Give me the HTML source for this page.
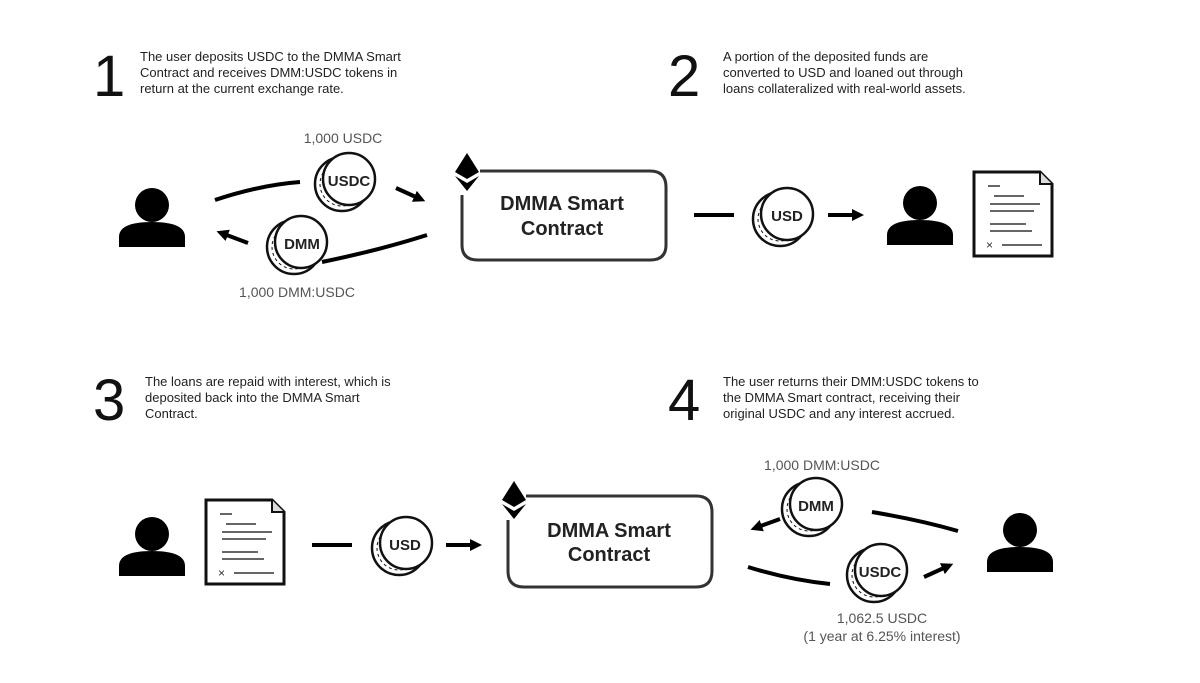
<!DOCTYPE html>
<html><head><style>
body{margin:0;background:#fff;}
svg{display:block;}
.t{font-family:"Liberation Sans",sans-serif;font-size:13px;fill:#222;}
.n{font-family:"Liberation Sans",sans-serif;font-size:58px;fill:#111;}
.g{font-family:"Liberation Sans",sans-serif;font-size:14px;fill:#555;}
.b{font-family:"Liberation Sans",sans-serif;font-size:20px;font-weight:bold;fill:#222;}
.c{font-family:"Liberation Sans",sans-serif;font-size:15px;font-weight:bold;fill:#222;}
</style></head><body>
<svg width="1200" height="683" viewBox="0 0 1200 683" xmlns="http://www.w3.org/2000/svg">
<defs>
<g id="coin">
<circle cx="-6" cy="4" r="27" fill="#fff" stroke="#111" stroke-width="2.5"/>
<circle cx="-6" cy="4" r="22" fill="none" stroke="#111" stroke-width="1" stroke-dasharray="3 3"/>
<circle cx="1" cy="-1" r="26" fill="#fff" stroke="#111" stroke-width="2.5"/>
</g>
<g id="person">
<circle cx="0" cy="0" r="17" fill="#000"/>
<path d="M-33,42 L-33,32 Q-33,17 0,17 Q33,17 33,32 L33,42 Z" fill="#000"/>
</g>
<g id="doc">
<path d="M0,0 H66 L78,12 V84 H0 Z" fill="#fff" stroke="#111" stroke-width="3"/>
<path d="M66,0 V12 H78" fill="#ddd" stroke="#111" stroke-width="2"/>
<g stroke="#333" stroke-width="1.5">
<line x1="14" y1="14" x2="26" y2="14"/><line x1="20" y1="24" x2="50" y2="24"/>
<line x1="16" y1="32" x2="66" y2="32"/><line x1="16" y1="39" x2="60" y2="39"/>
<line x1="16" y1="52" x2="52" y2="52"/><line x1="16" y1="59" x2="58" y2="59"/>
<line x1="28" y1="73" x2="68" y2="73"/>
</g>
<text x="12" y="77" font-family="Liberation Sans" font-size="12" fill="#333">×</text>
</g>
<g id="eth">
<path d="M0,0 L12,19 L0,26 L-12,19 Z" fill="#000"/>
<path d="M-12,23 L0,30 L12,23 L0,38 Z" fill="#000"/>
</g>
<marker id="ah" markerWidth="3" markerHeight="3" refX="1" refY="1.5" orient="auto" markerUnits="strokeWidth"><path d="M0,0 L3,1.5 L0,3 Z" fill="#000"/></marker>
</defs>

<text class="n" x="93" y="96">1</text>
<text class="t" x="140" y="61">The user deposits USDC to the DMMA Smart</text>
<text class="t" x="140" y="77">Contract and receives DMM:USDC tokens in</text>
<text class="t" x="140" y="93">return at the current exchange rate.</text>
<text class="n" x="668" y="96">2</text>
<text class="t" x="723" y="61">A portion of the deposited funds are</text>
<text class="t" x="723" y="77">converted to USD and loaned out through</text>
<text class="t" x="723" y="93">loans collateralized with real-world assets.</text>
<text class="n" x="93" y="420">3</text>
<text class="t" x="145" y="386">The loans are repaid with interest, which is</text>
<text class="t" x="145" y="402">deposited back into the DMMA Smart</text>
<text class="t" x="145" y="418">Contract.</text>
<text class="n" x="668" y="420">4</text>
<text class="t" x="723" y="386">The user returns their DMM:USDC tokens to</text>
<text class="t" x="723" y="402">the DMMA Smart contract, receiving their</text>
<text class="t" x="723" y="418">original USDC and any interest accrued.</text>

<!-- Row 1 -->
<use href="#person" x="152" y="205"/>
<text class="g" x="343" y="143" text-anchor="middle">1,000 USDC</text>
<text class="g" x="297" y="297" text-anchor="middle">1,000 DMM:USDC</text>
<path d="M215,200 Q260,185 300,182" fill="none" stroke="#000" stroke-width="4"/>
<path d="M396,188 L418,198" fill="none" stroke="#000" stroke-width="4" marker-end="url(#ah)"/>
<path d="M427,235 Q380,250 322,262" fill="none" stroke="#000" stroke-width="4"/>
<path d="M248,243 L224,234" fill="none" stroke="#000" stroke-width="4" marker-end="url(#ah)"/>
<use href="#coin" x="348" y="180"/>
<text class="c" x="349" y="186" text-anchor="middle">USDC</text>
<use href="#coin" x="300" y="243"/>
<text class="c" x="302" y="249" text-anchor="middle">DMM</text>
<path d="M480,171 H650 Q666,171 666,187 V245 Q666,260 650,260 H478 Q462,260 462,245 V195" fill="none" stroke="#333" stroke-width="3"/>
<use href="#eth" x="467" y="153"/>
<text class="b" x="562" y="210" text-anchor="middle">DMMA Smart</text>
<text class="b" x="562" y="235" text-anchor="middle">Contract</text>
<line x1="694" y1="215" x2="734" y2="215" stroke="#000" stroke-width="4"/>
<use href="#coin" x="786" y="215"/>
<text class="c" x="787" y="221" text-anchor="middle">USD</text>
<path d="M828,215 L856,215" stroke="#000" stroke-width="4" marker-end="url(#ah)"/>
<use href="#person" x="920" y="203"/>
<use href="#doc" x="974" y="172"/>

<!-- Row 2 -->
<use href="#person" x="152" y="534"/>
<use href="#doc" x="206" y="500"/>
<line x1="312" y1="545" x2="352" y2="545" stroke="#000" stroke-width="4"/>
<use href="#coin" x="405" y="544"/>
<text class="c" x="405" y="550" text-anchor="middle">USD</text>
<path d="M446,545 L474,545" stroke="#000" stroke-width="4" marker-end="url(#ah)"/>
<path d="M526,496 H696 Q712,496 712,512 V571 Q712,587 696,587 H524 Q508,587 508,571 V520" fill="none" stroke="#333" stroke-width="3"/>
<use href="#eth" x="514" y="481"/>
<text class="b" x="609" y="537" text-anchor="middle">DMMA Smart</text>
<text class="b" x="609" y="561" text-anchor="middle">Contract</text>
<text class="g" x="822" y="470" text-anchor="middle">1,000 DMM:USDC</text>
<use href="#coin" x="815" y="505"/>
<text class="c" x="816" y="511" text-anchor="middle">DMM</text>
<path d="M780,519 L758,527" stroke="#000" stroke-width="4" marker-end="url(#ah)"/>
<path d="M872,512 Q920,520 958,531" fill="none" stroke="#000" stroke-width="4"/>
<path d="M748,567 Q790,580 830,584" fill="none" stroke="#000" stroke-width="4"/>
<use href="#coin" x="880" y="571"/>
<text class="c" x="880" y="577" text-anchor="middle">USDC</text>
<path d="M924,577 L946,567" stroke="#000" stroke-width="4" marker-end="url(#ah)"/>
<use href="#person" x="1020" y="530"/>
<text class="g" x="882" y="623" text-anchor="middle">1,062.5 USDC</text>
<text class="g" x="882" y="641" text-anchor="middle">(1 year at 6.25% interest)</text>
</svg>
</body></html>
